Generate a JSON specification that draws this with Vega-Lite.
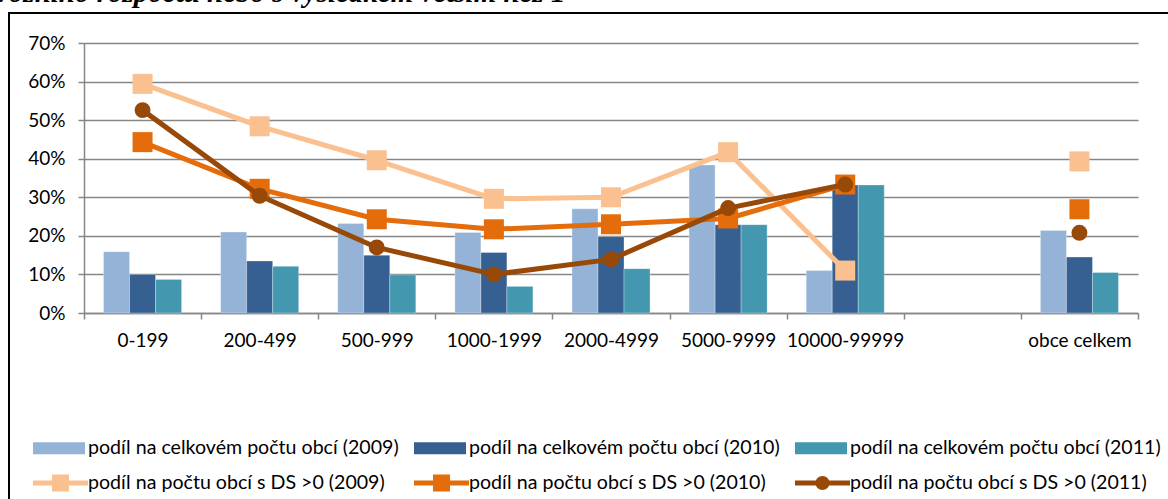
{
  "$schema": "https://vega.github.io/schema/vega-lite/v6.json",
  "autosize": {"type": "none"},
  "padding": {"left": 84, "top": 43, "right": 30, "bottom": 186},
  "width": 1054,
  "height": 270,
  "background": "white",
  "title": {
    "text": "vozního rozpočtu nebo s výsledkem větším než 1",
    "anchor": "start",
    "frame": "group",
    "font": "Liberation Serif",
    "fontStyle": "italic",
    "fontWeight": "bold",
    "fontSize": 29,
    "color": "black",
    "baseline": "alphabetic",
    "dx": -88,
    "dy": 25,
    "offset": 6
  },
  "data": {
    "values": [
      {"cat": "0-199", "series": "podíl na celkovém počtu obcí (2009)", "value": 0.159},
      {"cat": "0-199", "series": "podíl na celkovém počtu obcí (2010)", "value": 0.100},
      {"cat": "0-199", "series": "podíl na celkovém počtu obcí (2011)", "value": 0.087},
      {"cat": "0-199", "series": "podíl na počtu obcí s DS >0 (2009)", "value": 0.594},
      {"cat": "0-199", "series": "podíl na počtu obcí s DS >0 (2010)", "value": 0.443},
      {"cat": "0-199", "series": "podíl na počtu obcí s DS >0 (2011)", "value": 0.526},
      {"cat": "200-499", "series": "podíl na celkovém počtu obcí (2009)", "value": 0.210},
      {"cat": "200-499", "series": "podíl na celkovém počtu obcí (2010)", "value": 0.135},
      {"cat": "200-499", "series": "podíl na celkovém počtu obcí (2011)", "value": 0.121},
      {"cat": "200-499", "series": "podíl na počtu obcí s DS >0 (2009)", "value": 0.484},
      {"cat": "200-499", "series": "podíl na počtu obcí s DS >0 (2010)", "value": 0.322},
      {"cat": "200-499", "series": "podíl na počtu obcí s DS >0 (2011)", "value": 0.304},
      {"cat": "500-999", "series": "podíl na celkovém počtu obcí (2009)", "value": 0.232},
      {"cat": "500-999", "series": "podíl na celkovém počtu obcí (2010)", "value": 0.150},
      {"cat": "500-999", "series": "podíl na celkovém počtu obcí (2011)", "value": 0.099},
      {"cat": "500-999", "series": "podíl na počtu obcí s DS >0 (2009)", "value": 0.396},
      {"cat": "500-999", "series": "podíl na počtu obcí s DS >0 (2010)", "value": 0.243},
      {"cat": "500-999", "series": "podíl na počtu obcí s DS >0 (2011)", "value": 0.170},
      {"cat": "1000-1999", "series": "podíl na celkovém počtu obcí (2009)", "value": 0.209},
      {"cat": "1000-1999", "series": "podíl na celkovém počtu obcí (2010)", "value": 0.157},
      {"cat": "1000-1999", "series": "podíl na celkovém počtu obcí (2011)", "value": 0.069},
      {"cat": "1000-1999", "series": "podíl na počtu obcí s DS >0 (2009)", "value": 0.296},
      {"cat": "1000-1999", "series": "podíl na počtu obcí s DS >0 (2010)", "value": 0.217},
      {"cat": "1000-1999", "series": "podíl na počtu obcí s DS >0 (2011)", "value": 0.100},
      {"cat": "2000-4999", "series": "podíl na celkovém počtu obcí (2009)", "value": 0.270},
      {"cat": "2000-4999", "series": "podíl na celkovém počtu obcí (2010)", "value": 0.198},
      {"cat": "2000-4999", "series": "podíl na celkovém počtu obcí (2011)", "value": 0.115},
      {"cat": "2000-4999", "series": "podíl na počtu obcí s DS >0 (2009)", "value": 0.300},
      {"cat": "2000-4999", "series": "podíl na počtu obcí s DS >0 (2010)", "value": 0.230},
      {"cat": "2000-4999", "series": "podíl na počtu obcí s DS >0 (2011)", "value": 0.139},
      {"cat": "5000-9999", "series": "podíl na celkovém počtu obcí (2009)", "value": 0.384},
      {"cat": "5000-9999", "series": "podíl na celkovém počtu obcí (2010)", "value": 0.229},
      {"cat": "5000-9999", "series": "podíl na celkovém počtu obcí (2011)", "value": 0.229},
      {"cat": "5000-9999", "series": "podíl na počtu obcí s DS >0 (2009)", "value": 0.417},
      {"cat": "5000-9999", "series": "podíl na počtu obcí s DS >0 (2010)", "value": 0.245},
      {"cat": "5000-9999", "series": "podíl na počtu obcí s DS >0 (2011)", "value": 0.272},
      {"cat": "10000-99999", "series": "podíl na celkovém počtu obcí (2009)", "value": 0.110},
      {"cat": "10000-99999", "series": "podíl na celkovém počtu obcí (2010)", "value": 0.332},
      {"cat": "10000-99999", "series": "podíl na celkovém počtu obcí (2011)", "value": 0.332},
      {"cat": "10000-99999", "series": "podíl na počtu obcí s DS >0 (2009)", "value": 0.110},
      {"cat": "10000-99999", "series": "podíl na počtu obcí s DS >0 (2010)", "value": 0.333},
      {"cat": "10000-99999", "series": "podíl na počtu obcí s DS >0 (2011)", "value": 0.333},
      {"cat": "obce celkem", "series": "podíl na celkovém počtu obcí (2009)", "value": 0.214},
      {"cat": "obce celkem", "series": "podíl na celkovém počtu obcí (2010)", "value": 0.145},
      {"cat": "obce celkem", "series": "podíl na celkovém počtu obcí (2011)", "value": 0.105},
      {"cat": "obce celkem", "series": "podíl na počtu obcí s DS >0 (2009)", "value": 0.393},
      {"cat": "obce celkem", "series": "podíl na počtu obcí s DS >0 (2010)", "value": 0.269},
      {"cat": "obce celkem", "series": "podíl na počtu obcí s DS >0 (2011)", "value": 0.208}
    ]
  },
  "encoding": {
    "x": {
      "field": "cat",
      "type": "nominal",
      "sort": null,
      "title": null,
      "scale": {
        "domain": ["0-199", "200-499", "500-999", "1000-1999", "2000-4999", "5000-9999", "10000-99999", " ", "obce celkem"],
        "paddingInner": 0,
        "paddingOuter": 0
      },
      "axis": {
        "labelAngle": 0,
        "tickBand": "extent",
        "tickSize": 6,
        "labelPadding": 12,
        "domainColor": "#868686",
        "domainWidth": 1.5,
        "tickColor": "#868686",
        "tickWidth": 1.5,
        "grid": false
      }
    },
    "y": {
      "field": "value",
      "type": "quantitative",
      "title": null,
      "scale": {"domain": [0, 0.7], "nice": false},
      "axis": {
        "values": [0, 0.1, 0.2, 0.3, 0.4, 0.5, 0.6, 0.7],
        "format": ".0%",
        "tickSize": 6,
        "labelPadding": 13,
        "domainColor": "#868686",
        "domainWidth": 1.5,
        "tickColor": "#868686",
        "tickWidth": 1.5,
        "grid": true,
        "gridColor": "#868686",
        "gridWidth": 1.5
      }
    },
    "color": {
      "field": "series",
      "type": "nominal",
      "scale": {
        "domain": [
          "podíl na celkovém počtu obcí (2009)",
          "podíl na počtu obcí s DS >0 (2009)",
          "podíl na celkovém počtu obcí (2010)",
          "podíl na počtu obcí s DS >0 (2010)",
          "podíl na celkovém počtu obcí (2011)",
          "podíl na počtu obcí s DS >0 (2011)"
        ],
        "range": ["#95B3D7", "#FAC090", "#366092", "#E46C0A", "#4398B0", "#984807"]
      },
      "legend": {
        "orient": "none",
        "legendX": -75,
        "legendY": -30,
        "columns": 3,
        "gridAlign": "all",
        "columnPadding": 15,
        "rowPadding": 15,
        "padding": 24,
        "strokeColor": "black",
        "title": " ",
        "titleFontSize": 1,
        "titlePadding": 400,
        "symbolSize": 400,
        "labelOffset": 35,
        "labelFont": "Lato",
        "labelFontSize": 19.6,
        "labelColor": "black",
        "labelLimit": 0,
        "encode": {
          "legend": {"update": {"strokeWidth": {"value": 2}}},
          "symbols": {
            "update": {
              "shape": {"signal": "indexof(datum.value, '(2011)') >= 0 && indexof(datum.value, 'DS') >= 0 ? 'M-1,-0.25H4.5V0.25H-1Z M2.45,0A0.7,0.7 0 1,1 1.05,0A0.7,0.7 0 1,1 2.45,0Z' : indexof(datum.value, 'DS') >= 0 ? 'M-1,-0.25H4.5V0.25H-1Z M0.9,-0.85H2.6V0.85H0.9Z' : 'M-1,-0.6H4.2V0.6H-1Z'"},
              "fill": {"scale": "color", "field": "value"},
              "fillOpacity": {"value": 1},
              "opacity": {"value": 1},
              "strokeWidth": {"value": 0}
            }
          }
        }
      }
    }
  },
  "layer": [
    {
      "transform": [{"filter": {"field": "series", "oneOf": ["podíl na celkovém počtu obcí (2009)", "podíl na celkovém počtu obcí (2010)", "podíl na celkovém počtu obcí (2011)"]}}],
      "mark": {"type": "bar", "stroke": "#ffffff", "strokeWidth": 0.6, "strokeOpacity": 0.5},
      "encoding": {
        "xOffset": {
          "field": "series",
          "type": "nominal",
          "sort": ["podíl na celkovém počtu obcí (2009)", "podíl na celkovém počtu obcí (2010)", "podíl na celkovém počtu obcí (2011)"],
          "scale": {"paddingOuter": 0.75, "paddingInner": 0}
        }
      }
    },
    {
      "transform": [{"filter": "datum.series == 'podíl na počtu obcí s DS >0 (2009)' && datum.cat != 'obce celkem'"}],
      "mark": {"type": "line", "strokeWidth": 5, "strokeJoin": "round", "strokeCap": "butt"}
    },
    {
      "transform": [{"filter": "datum.series == 'podíl na počtu obcí s DS >0 (2009)'"}],
      "mark": {"type": "point", "shape": "square", "filled": true, "size": 400, "opacity": 1}
    },
    {
      "transform": [{"filter": "datum.series == 'podíl na počtu obcí s DS >0 (2010)' && datum.cat != 'obce celkem'"}],
      "mark": {"type": "line", "strokeWidth": 5, "strokeJoin": "round", "strokeCap": "butt"}
    },
    {
      "transform": [{"filter": "datum.series == 'podíl na počtu obcí s DS >0 (2010)'"}],
      "mark": {"type": "point", "shape": "square", "filled": true, "size": 400, "opacity": 1}
    },
    {
      "transform": [{"filter": "datum.series == 'podíl na počtu obcí s DS >0 (2011)' && datum.cat != 'obce celkem'"}],
      "mark": {"type": "line", "strokeWidth": 5, "strokeJoin": "round", "strokeCap": "butt"}
    },
    {
      "transform": [{"filter": "datum.series == 'podíl na počtu obcí s DS >0 (2011)'"}],
      "mark": {"type": "point", "shape": "circle", "filled": true, "size": 254, "opacity": 1}
    }
  ],
  "config": {
    "view": {"stroke": null},
    "axis": {"labelFont": "Lato", "labelFontSize": 19, "labelColor": "black"}
  }
}
